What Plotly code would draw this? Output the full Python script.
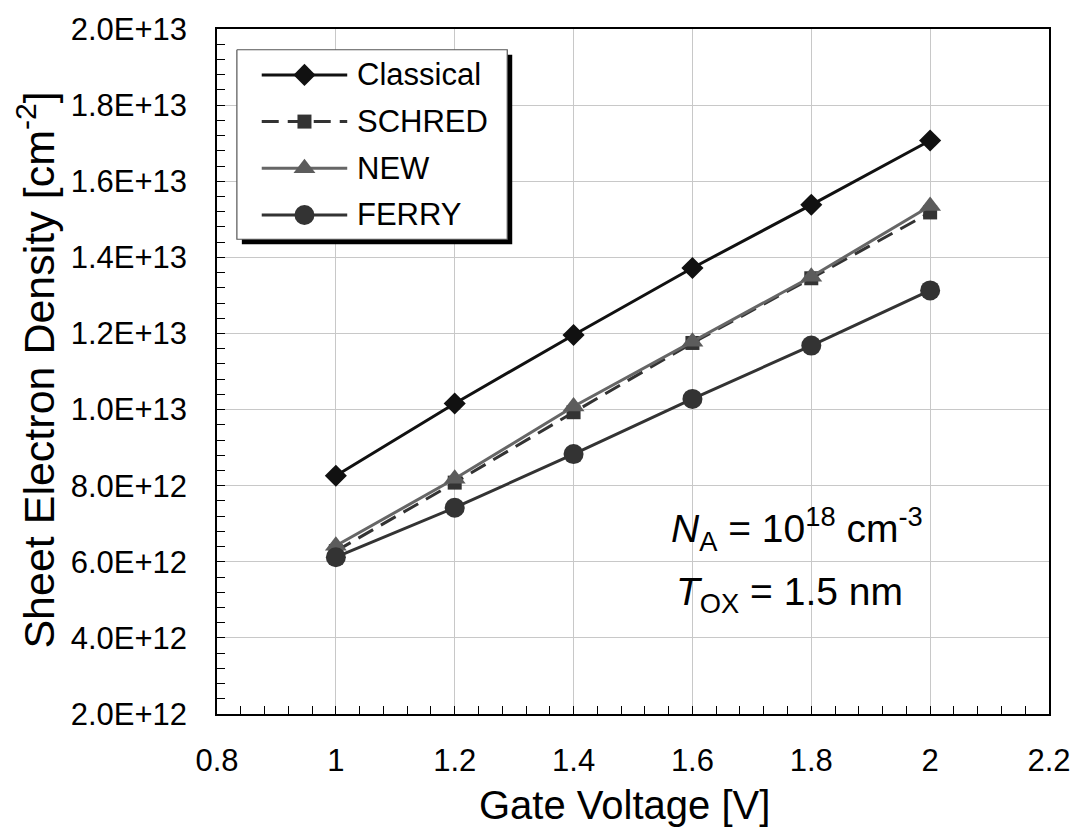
import plotly.graph_objects as go

# ---- data ----
gate_voltage = [1.0, 1.2, 1.4, 1.6, 1.8, 2.0]
classical = [8.26e12, 1.016e13, 1.196e13, 1.372e13, 1.538e13, 1.707e13]
schred = [6.28e12, 8.08e12, 9.93e12, 1.175e13, 1.345e13, 1.518e13]
new = [6.42e12, 8.18e12, 1.008e13, 1.178e13, 1.349e13, 1.535e13]
ferry = [6.12e12, 7.42e12, 8.83e12, 1.028e13, 1.168e13, 1.313e13]

series_names = ["Classical", "SCHRED", "NEW", "FERRY"]
x_tickvals = [0.8, 1.0, 1.2, 1.4, 1.6, 1.8, 2.0, 2.2]
x_ticktext = ["0.8", "1", "1.2", "1.4", "1.6", "1.8", "2", "2.2"]
y_tickvals = [2e12, 4e12, 6e12, 8e12, 1e13, 1.2e13, 1.4e13, 1.6e13, 1.8e13, 2e13]
y_ticktext = ["2.0E+12", "4.0E+12", "6.0E+12", "8.0E+12", "1.0E+13",
              "1.2E+13", "1.4E+13", "1.6E+13", "1.8E+13", "2.0E+13"]
x_range = [0.8, 2.2]
y_range = [2e12, 2e13]

FONT = "Arial, Liberation Sans, sans-serif"

styles = {
    "Classical": dict(line=dict(color="#111111", width=3),
                      marker=dict(symbol="diamond", size=17, color="#111111")),
    "SCHRED": dict(line=dict(color="#333333", width=3, dash="17px,9px"),
                   marker=dict(symbol="square", size=14, color="#333333")),
    "NEW": dict(line=dict(color="#666666", width=3),
                marker=dict(symbol="triangle-up", size=19, color="#5c5c5c")),
    "FERRY": dict(line=dict(color="#333333", width=3),
                  marker=dict(symbol="circle", size=20, color="#333333")),
}
values = {"Classical": classical, "SCHRED": schred, "NEW": new, "FERRY": ferry}

fig = go.Figure()
for name in series_names:
    fig.add_trace(go.Scatter(x=gate_voltage, y=values[name], mode="lines+markers",
                             name=name, showlegend=False, cliponaxis=False,
                             **styles[name]))

# ---- pixel-space overlay axes for the legend box ----
PX0, PX1, PY0, PY1 = 217, 1054, 20, 714
W, H = PX1 - PX0, PY1 - PY0


def px(x):
    return (x - PX0) / W


def py(y):
    return (PY1 - y) / H


bx0, by0, bx1, by1 = 237, 41, 509, 233
sh = 5
fig.add_trace(go.Scatter(x=[bx0 + sh, bx1 + sh, bx1 + sh, bx0 + sh, bx0 + sh],
                         y=[by0 + sh, by0 + sh, by1 + sh, by1 + sh, by0 + sh],
                         fill="toself", fillcolor="#000000", mode="lines",
                         line=dict(width=0, color="#000000"),
                         xaxis="x2", yaxis="y2", showlegend=False, hoverinfo="skip"))
fig.add_trace(go.Scatter(x=[bx0, bx1, bx1, bx0, bx0],
                         y=[by0, by0, by1, by1, by0],
                         fill="toself", fillcolor="#ffffff", mode="lines",
                         line=dict(width=1.2, color="#555555"),
                         xaxis="x2", yaxis="y2", showlegend=False, hoverinfo="skip"))
row_y0, row_dy = 66.5, 47.3
for i, name in enumerate(series_names):
    ry = row_y0 + row_dy * i
    st = styles[name]
    fig.add_trace(go.Scatter(x=[262, 348], y=[ry, ry], mode="lines", line=st["line"],
                             xaxis="x2", yaxis="y2", showlegend=False, hoverinfo="skip"))
    fig.add_trace(go.Scatter(x=[305], y=[ry], mode="markers", marker=st["marker"],
                             xaxis="x2", yaxis="y2", showlegend=False, hoverinfo="skip"))
    fig.add_annotation(x=px(356), y=py(ry), xref="paper", yref="paper", text=name,
                       showarrow=False, xanchor="left", yanchor="middle",
                       font=dict(family=FONT, size=31, color="#000000"))

# ---- text annotations ----
fig.add_annotation(x=px(34), y=py(366), xref="paper", yref="paper",
                   text="Sheet Electron Density [cm<sup>-2</sup>]", textangle=-90,
                   showarrow=False, xanchor="center", yanchor="middle",
                   font=dict(family=FONT, size=43, color="#000000"))
fig.add_annotation(x=px(627), y=py(806), xref="paper", yref="paper",
                   text="Gate Voltage [V]",
                   showarrow=False, xanchor="center", yanchor="middle",
                   font=dict(family=FONT, size=40, color="#000000"))
fig.add_annotation(x=px(672), y=py(527), xref="paper", yref="paper",
                   text="<i>N</i><sub>A</sub> = 10<sup>18</sup> cm<sup>-3</sup>",
                   showarrow=False, xanchor="left", yanchor="middle",
                   font=dict(family=FONT, size=39, color="#000000"))
fig.add_annotation(x=px(677), y=py(593), xref="paper", yref="paper",
                   text="<i>T</i><sub>OX</sub> = 1.5 nm",
                   showarrow=False, xanchor="left", yanchor="middle",
                   font=dict(family=FONT, size=39, color="#000000"))

axis_common = dict(showline=True, linecolor="#000000", linewidth=1.5, mirror=True,
                   showgrid=True, gridcolor="#c8c8c8", gridwidth=1,
                   ticks="inside", ticklen=8, tickcolor="#000000", tickwidth=1,
                   zeroline=False, tickmode="array",
                   tickfont=dict(family=FONT, size=31, color="#000000"))

fig.update_layout(
    width=1083, height=840,
    margin=dict(l=PX0, r=1083 - PX1, t=PY0, b=840 - PY1),
    paper_bgcolor="#ffffff", plot_bgcolor="#ffffff",
    showlegend=False,
    xaxis=dict(range=x_range, tickvals=x_tickvals, ticktext=x_ticktext,
               ticklabelstandoff=18,
               minor=dict(ticks="inside", ticklen=8, tickcolor="#000000",
                          tick0=0.8, dtick=0.04, showgrid=False),
               **axis_common),
    yaxis=dict(range=y_range, tickvals=y_tickvals, ticktext=y_ticktext,
               ticklabelstandoff=22,
               minor=dict(ticks="inside", ticklen=8, tickcolor="#000000",
                          tick0=2e12, dtick=4e11, showgrid=False),
               **axis_common),
    xaxis2=dict(range=[PX0, PX1], overlaying="x", anchor="y2", visible=False,
                fixedrange=True),
    yaxis2=dict(range=[PY1, PY0], overlaying="y", anchor="x2", visible=False,
                fixedrange=True),
)

fig.write_html("out.html")
